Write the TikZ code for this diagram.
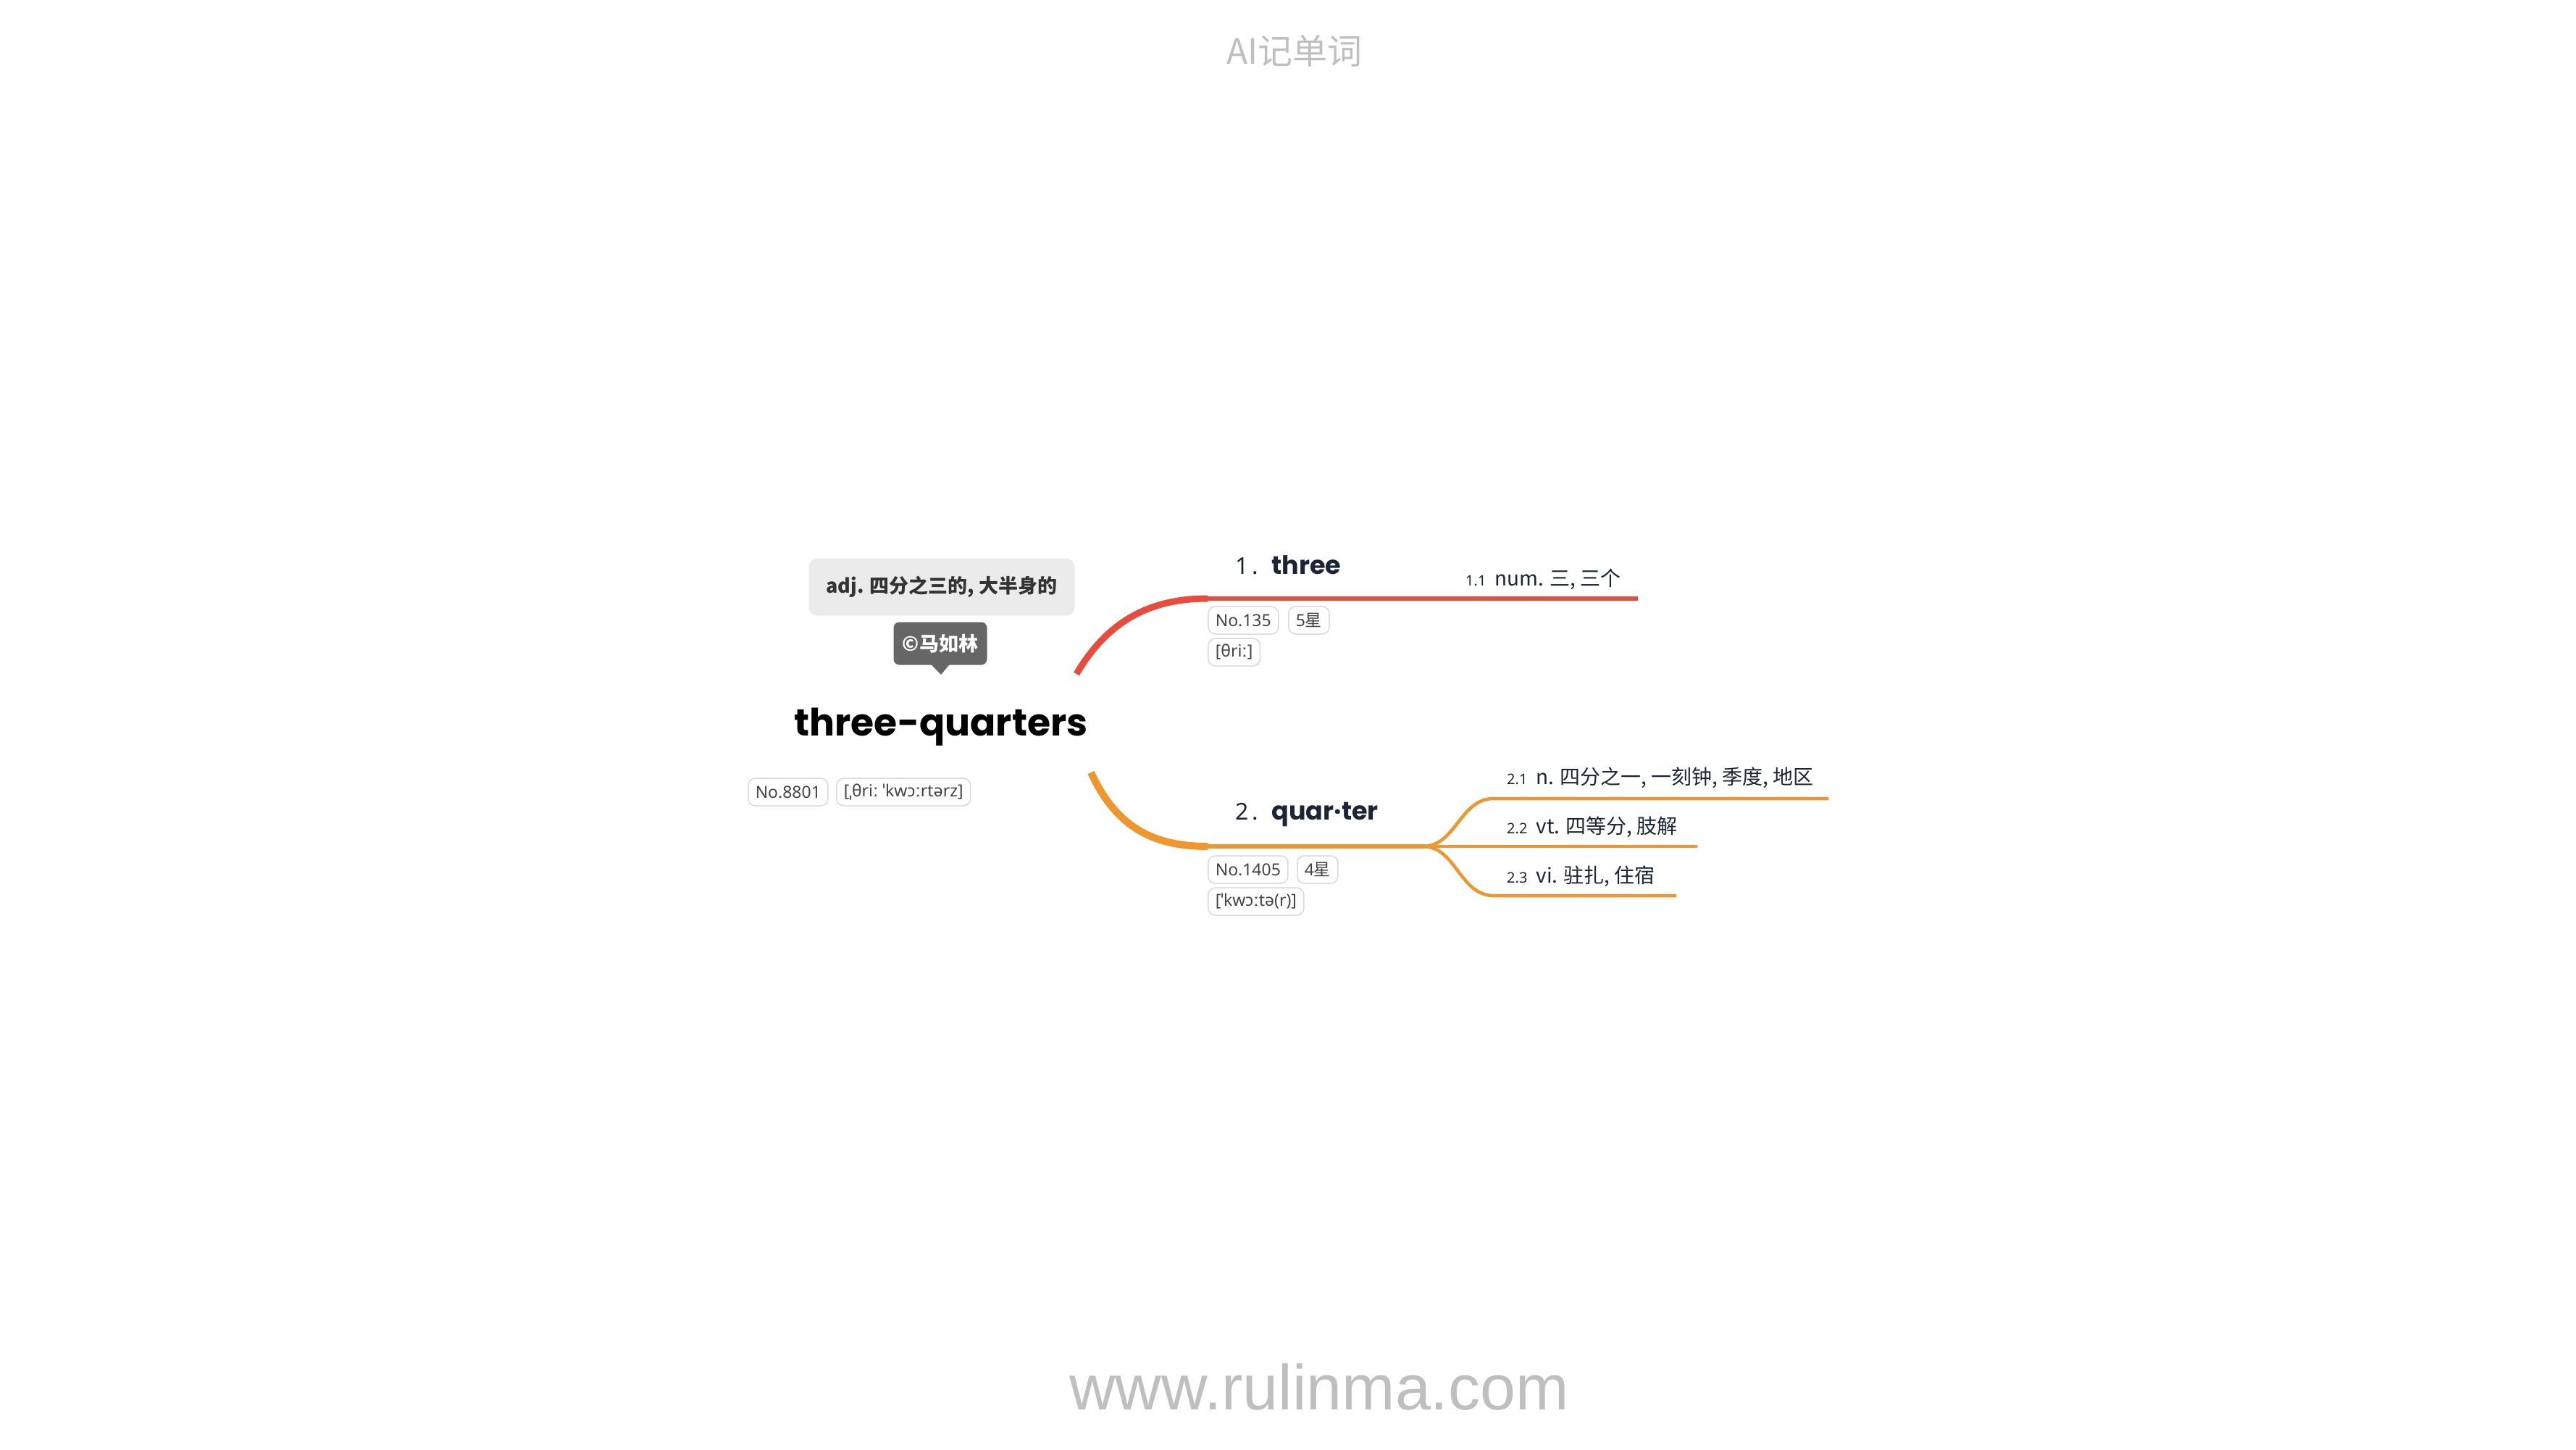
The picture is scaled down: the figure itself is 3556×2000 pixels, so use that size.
\documentclass[tikz,border=0pt]{standalone}
\usepackage{fontspec}
\setmainfont{Noto Sans CJK SC}
\newfontfamily\headfont{Poppins}
\newfontfamily\ipafont{Noto Sans}
\newfontfamily\urlfont{Liberation Sans}
\newfontfamily\cjkfont{Noto Sans CJK SC}
\newcommand\myfs[1]{\fontsize{#1}{#1}\selectfont}
\usetikzlibrary{calc}
\definecolor{redb}{HTML}{E84C3D}
\definecolor{orb}{HTML}{F0962F}
\definecolor{tagline}{HTML}{DADADA}
\definecolor{tagtext}{HTML}{444444}
\definecolor{headtext}{HTML}{1B2535}
\definecolor{wm}{HTML}{BFBFBF}
\begin{document}
\begin{tikzpicture}[x=1pt,y=-1pt,
  tagbox/.style={draw=tagline, line width=1.5pt, rounded corners=10pt, fill=white,
    text=tagtext, font=\ipafont\myfs{23}, inner xsep=10pt, inner ysep=0pt,
    minimum height=38pt, anchor=west},
  headlbl/.style={anchor=west, text=headtext, inner sep=0pt},
  sublbl/.style={anchor=west, text=headtext, inner sep=0pt, font=\myfs{28}},
  redline/.style={draw=redb, line cap=butt},
  orline/.style={draw=orb, line cap=butt},
]
\fill[white] (0,0) rectangle (3556,2000);
\useasboundingbox (0,0) rectangle (3556,2000);

% watermarks
\node[text=wm, font=\myfs{48}, inner sep=0pt] (title) at (1787,70) {AI记单词};
\node[text=wm, font=\urlfont\myfs{88}, inner sep=0pt, anchor=base] (url) at (1821,1945) {www.rulinma.com};

% root
\node[fill=black!8, rounded corners=12pt, minimum width=367pt, minimum height=79pt,
  text=black!80, font=\bfseries\myfs{27}, inner sep=0pt] (def) at (1300,810)
  {adj. 四分之三的, 大半身的};
\node[fill=black!60, rounded corners=8pt, minimum width=129pt, minimum height=59pt,
  text=white, font=\bfseries\myfs{27}, inner sep=0pt] (auth) at (1298,888) {©马如林};
\coordinate (ptip) at (1299,931);
\fill[black!60] ($(auth.south)+(-13,-1)$) -- (ptip) -- ($(auth.south)+(13,-1)$) -- cycle;
\node[anchor=base, font=\headfont\bfseries\myfs{52}, inner sep=0pt] (root) at (1299,1015) {three-quarters};
\node[tagbox] (rno) at (1032,1093) {No.8801};
\node[tagbox] (rph) at (1154,1093) {[ˌθriː ˈkwɔːrtərz]};

% branch 1
\coordinate (r1) at (1486,930);
\coordinate (b1s) at (1667,826);
\coordinate (b1e) at (2261,826);
\draw[redline, line width=9pt] (r1) .. controls (1530,855) and (1590,826) .. (b1s);
\draw[redline, line width=6pt] ([xshift=-2pt]b1s) -- (b1e);
\node[headlbl] (h1) at (1705,780) {{\ipafont\myfs{32}1\,.}\hspace{18pt}{\headfont\bfseries\myfs{35}three}};
\node[tagbox] (t1a) at (1667,856) {No.135};
\node[tagbox] (t1b) at (1778,856) {5{\cjkfont 星}};
\node[tagbox] (t1c) at (1667,900) {[θriː]};
\node[sublbl] (s11) at (2023,799) {{\ipafont\myfs{20}1.1}\hspace{12pt}num. 三, 三个};

% branch 2
\coordinate (r2) at (1506,1066);
\coordinate (b2s) at (1667,1168);
\coordinate (fork) at (1968,1168);
\draw[orline, line width=10pt] (r2) .. controls (1540,1140) and (1590,1168) .. (b2s);
\draw[orline, line width=6pt] ([xshift=-2pt]b2s) -- (fork);
\node[headlbl] (h2) at (1705,1124) {{\ipafont\myfs{32}2\,.}\hspace{18pt}{\headfont\bfseries\myfs{35}quar·ter}};
\node[tagbox] (t2a) at (1667,1200) {No.1405};
\node[tagbox] (t2b) at (1790,1200) {4{\cjkfont 星}};
\node[tagbox] (t2c) at (1667,1244) {[ˈkwɔːtə(r)]};

\coordinate (s21s) at (2062,1102);
\coordinate (s21e) at (2524,1102);
\coordinate (s22e) at (2343,1168);
\coordinate (s23s) at (2062,1236);
\coordinate (s23e) at (2314,1236);
\draw[orline, line width=4.5pt] ([xshift=-4pt]fork) .. controls (2010,1168) and (2015,1102) .. (s21s) -- (s21e);
\draw[orline, line width=4.5pt] ([xshift=-4pt]fork) -- (s22e);
\draw[orline, line width=4.5pt] ([xshift=-4pt]fork) .. controls (2010,1168) and (2015,1236) .. (s23s) -- (s23e);
\node[sublbl] (s21) at (2080,1073) {{\ipafont\myfs{20}2.1}\hspace{12pt}n. 四分之一, 一刻钟, 季度, 地区};
\node[sublbl] (s22) at (2080,1141) {{\ipafont\myfs{20}2.2}\hspace{12pt}vt. 四等分, 肢解};
\node[sublbl] (s23) at (2080,1209) {{\ipafont\myfs{20}2.3}\hspace{12pt}vi. 驻扎, 住宿};
\end{tikzpicture}
\end{document}
